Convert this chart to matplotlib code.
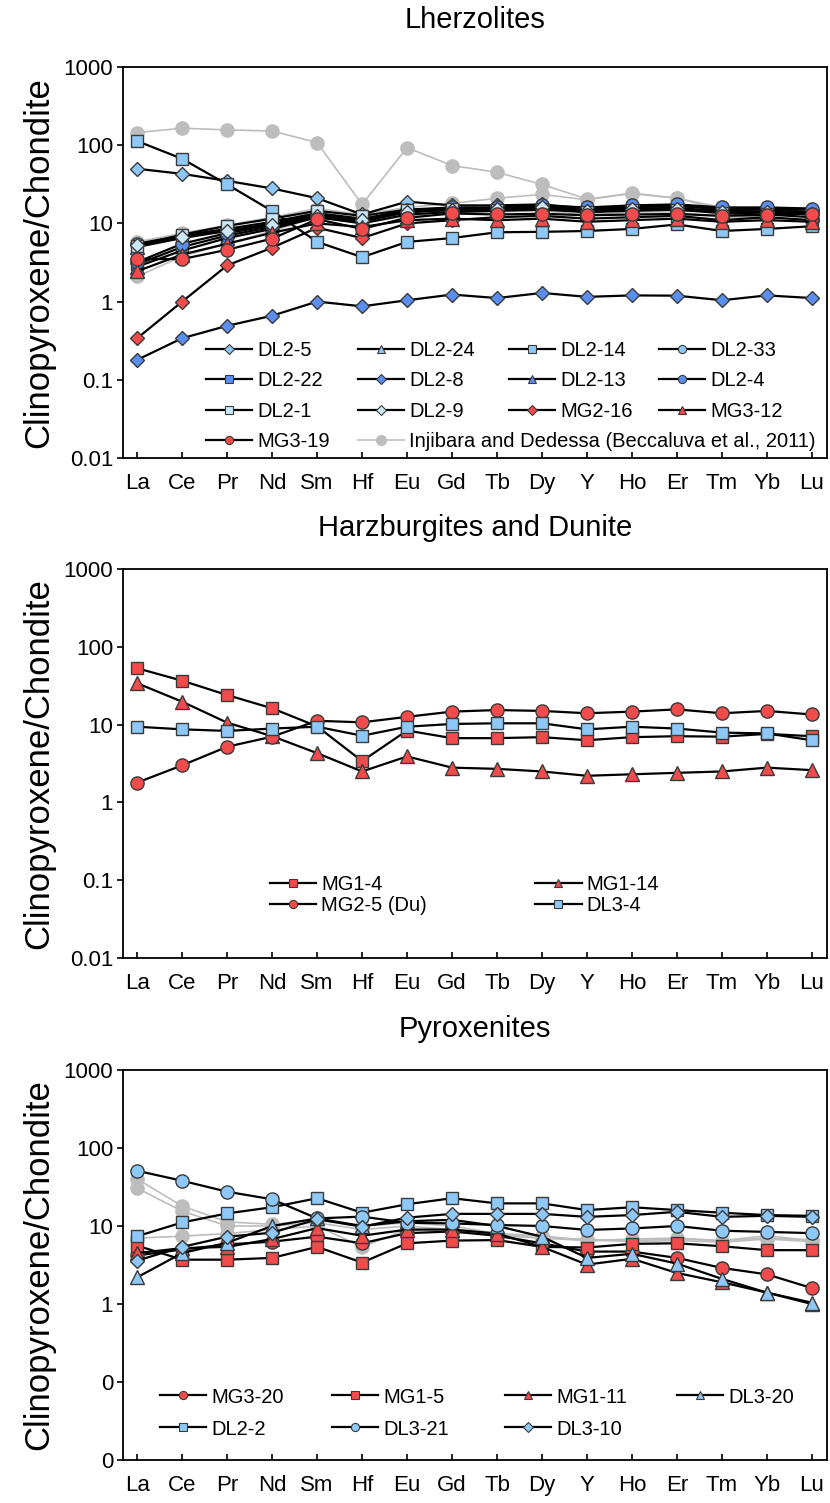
import numpy as np
import matplotlib
matplotlib.use('Agg')
from matplotlib import pyplot as plt
from matplotlib.lines import Line2D
from matplotlib.legend import Legend
from matplotlib.ticker import FixedLocator, FixedFormatter, NullLocator

plt.rcParams['font.family'] = ['Liberation Sans', 'DejaVu Sans']

elements = ['La', 'Ce', 'Pr', 'Nd', 'Sm', 'Hf', 'Eu', 'Gd', 'Tb', 'Dy', 'Y', 'Ho', 'Er', 'Tm', 'Yb', 'Lu']

# Lherzolites
dl2_5 = [50, 43, 35, 28, 21, 13, 19, 17, 17, 17.5, 15.5, 16, 17, 15, 15.5, 15]
dl2_24 = [5, 6.5, 8, 10, 13, 11, 14, 15, 15.5, 16, 14, 15, 16, 14, 14, 13]
dl2_14 = [113, 67, 31.5, 14.4, 5.8, 3.7, 5.8, 6.5, 7.7, 7.8, 8.0, 8.5, 9.7, 8.0, 8.5, 9.2]
dl2_33 = [5.5, 7, 8.5, 10.5, 13.5, 11.5, 14.5, 15, 15, 15.5, 14.5, 15, 15, 14.5, 14, 13.5]
dl2_22 = [3.0, 5, 7, 9, 12, 10, 13, 14, 14.5, 15, 14, 14.5, 15, 14, 14, 13]
dl2_8 = [0.18, 0.34, 0.49, 0.66, 1.0, 0.87, 1.04, 1.23, 1.11, 1.29, 1.15, 1.2, 1.19, 1.04, 1.2, 1.11]
dl2_13 = [2.8, 4.5, 6.5, 8.5, 12, 10.5, 14, 15, 16, 16.5, 15, 16, 17, 15, 15, 14]
dl2_4 = [3.2, 5.5, 7.5, 9.5, 13, 11, 15, 16, 16, 17, 16, 17, 17.5, 16, 16, 15.5]
dl2_1 = [5.2, 7.2, 9.3, 11.5, 14.5, 12.5, 15, 15.5, 15, 15.5, 14, 15, 15, 13.5, 13, 12]
dl2_9 = [5.3, 6.8, 8, 9.5, 12.5, 11, 14, 15, 15.5, 16, 14.5, 15.5, 15.5, 14, 14, 13]
mg2_16 = [0.34, 1.0, 2.9, 4.9, 8.8, 6.5, 10, 11, 12, 12.5, 11.5, 12, 12.5, 11, 12, 11]
mg3_12 = [2.45, 4, 5.5, 7.6, 10, 9, 11, 11.5, 11, 11.5, 10.5, 11, 11.5, 10.5, 11, 10.5]
mg3_19 = [3.5, 3.5, 4.6, 6.4, 11.3, 8.5, 11.8, 13.4, 13, 13.3, 12.7, 13, 13.2, 12.5, 12.8, 13.3]
bec_l1 = [145, 165, 157, 152, 108, 17.5, 93, 55, 45, 31.5, 20.5, 24, 21, 16, 15.5, 14]
bec_l2 = [5.8, 7.5, 9.5, 12, 15.5, 13, 16, 18, 21, 23.5, 20, 24.5, 21, 15, 14.5, 14]
bec_l3 = [2.1, 3.8, 5.5, 8, 12, 10, 12.5, 14, 14, 14.5, 13, 14, 14, 12, 12, 11]

# Harzburgites and Dunite
mg1_4 = [53, 36.7, 24, 16.2, 9.5, 3.4, 8.4, 6.7, 6.7, 6.9, 6.3, 6.9, 7.1, 7.0, 7.6, 7.1]
mg1_14 = [34, 19.7, 10.6, 7.1, 4.3, 2.5, 3.9, 2.8, 2.7, 2.5, 2.2, 2.3, 2.4, 2.5, 2.8, 2.6]
mg2_5 = [1.8, 3.0, 5.2, 7.0, 11.2, 10.7, 12.6, 14.7, 15.4, 15, 14, 14.7, 15.7, 14, 15, 13.5]
dl3_4 = [9.4, 8.7, 8.3, 8.9, 9.4, 7.2, 9.4, 10.2, 10.4, 10.4, 8.7, 9.4, 8.9, 7.9, 7.7, 6.3]

# Pyroxenites
mg3_20 = [4.2, 5.0, 5.8, 6.3, 7.3, 6.0, 8.1, 8.5, 7.5, 6.0, 4.7, 4.7, 3.9, 2.9, 2.4, 1.6]
mg1_5 = [5.6, 3.7, 3.7, 3.9, 5.4, 3.4, 6.0, 6.5, 6.6, 5.4, 5.3, 5.9, 6.0, 5.5, 4.9, 4.9]
mg1_11 = [4.5, 5.2, 5.4, 6.8, 9.4, 7.5, 9.0, 9.0, 8.0, 5.4, 3.2, 3.8, 2.5, 1.9, 1.4, 1.0]
dl3_20 = [2.2, 4.5, 6.1, 10, 12.5, 10, 11.5, 12, 10, 7.3, 3.9, 4.4, 3.3, 2.1, 1.4, 1.04]
dl2_2 = [7.4, 11.1, 14.5, 17.4, 22.7, 14.8, 19.0, 22.7, 19.5, 19.5, 16, 17.4, 16, 14.8, 13.8, 13.5]
dl3_21 = [51, 38, 27.5, 22, 12.5, 13.2, 11, 10.8, 10.3, 10, 8.9, 9.3, 10, 8.7, 8.4, 8.1]
dl3_10 = [3.6, 5.4, 7.3, 8.2, 12.2, 9.8, 12.8, 14.3, 14.3, 14.3, 13.1, 13.8, 15.2, 13.1, 13.5, 13.1]
bec_p1 = [40, 18, 11.3, 10.5, 12, 10, 11, 10, 8, 7.5, 6.5, 6.5, 6.8, 6.5, 7.5, 6.5]
bec_p2 = [30.5, 15.5, 10, 10, 11, 9, 10, 9, 7.5, 7, 6.8, 6.3, 6.5, 6.2, 6.8, 6.3]
bec_p3 = [7.0, 7.4, 8, 9, 10, 5.4, 9, 9, 8, 7, 6.5, 6.8, 7, 6.5, 7, 6.6]

LB = '#8DC8F8'
BL = '#5B8FEF'
PB = '#CBE8FA'
RD = '#F24B4B'
GR = '#BDBDBD'
EDGE = '#3A3A3A'
BEC_LABEL = 'Injibara and Dedessa (Beccaluva et al., 2011)'

MS = {'s': 9, 'o': 9.5, 'D': 7.5, '^': 9.5}

x = np.arange(len(elements))


def draw_series(ax, y, marker, color):
    ax.plot(x, y, color='black', lw=1.6, marker=marker, ms=MS[marker],
            mfc=color, mec=EDGE, mew=1.0, zorder=3)


def draw_bec(ax, y):
    ax.plot(x, y, color=GR, lw=1.2, marker='o', ms=9.5, mfc=GR, mec=GR, zorder=2)


def key(ax, marker, color, label, px, py, gray=False):
    if gray:
        h = Line2D([], [], color=GR, lw=1.2, marker='o', ms=7, mfc=GR, mec=GR)
    else:
        h = Line2D([], [], color='black', lw=1.6, marker=marker, ms=MS[marker] * 0.62,
                   mfc=color, mec=EDGE, mew=0.8)
    leg = Legend(ax, [h], [label], loc='center left', bbox_to_anchor=(px, py),
                 frameon=False, fontsize=14.5, handlelength=2.3, handletextpad=0.25,
                 borderpad=0, borderaxespad=0)
    ax.add_artist(leg)


def style_axis(ax, title, ylabels, title_pad):
    ax.set_yscale('log')
    ax.set_ylim(0.01, 1000)
    ax.set_xlim(-0.32, 15.33)
    ax.yaxis.set_major_locator(FixedLocator([0.01, 0.1, 1, 10, 100, 1000]))
    ax.yaxis.set_major_formatter(FixedFormatter(ylabels))
    ax.yaxis.set_minor_locator(NullLocator())
    ax.set_xticks(x)
    ax.set_xticklabels(elements)
    ax.tick_params(axis='x', direction='in', length=4, width=1.2, pad=11, labelsize=16)
    ax.tick_params(axis='y', direction='out', length=4, width=1.2, pad=3, labelsize=16)
    for s in ax.spines.values():
        s.set_linewidth(1.3)
    ax.set_ylabel('Clinopyroxene/Chondite', fontsize=25, labelpad=6)
    ax.set_title(title, fontsize=21, pad=title_pad)


fig = plt.figure(figsize=(8.3, 15.03), dpi=100)
left, width = 0.148, 0.848
ax1 = fig.add_axes([left, 0.6953, width, 0.2601])
ax2 = fig.add_axes([left, 0.3626, width, 0.2588])
ax3 = fig.add_axes([left, 0.0286, width, 0.2595])

# panel 1
for b in [bec_l1, bec_l2, bec_l3]:
    draw_bec(ax1, b)
top_series = [
    ('DL2-5', dl2_5, 'D', LB), ('DL2-24', dl2_24, '^', LB), ('DL2-14', dl2_14, 's', LB),
    ('DL2-33', dl2_33, 'o', LB), ('DL2-22', dl2_22, 's', BL), ('DL2-8', dl2_8, 'D', BL),
    ('DL2-13', dl2_13, '^', BL), ('DL2-4', dl2_4, 'o', BL), ('DL2-1', dl2_1, 's', PB),
    ('DL2-9', dl2_9, 'D', PB), ('MG2-16', mg2_16, 'D', RD), ('MG3-12', mg3_12, '^', RD),
    ('MG3-19', mg3_19, 'o', RD),
]
for lab, y, m, c in top_series:
    draw_series(ax1, y, m, c)
style_axis(ax1, 'Lherzolites', ['0.01', '0.1', '1', '10', '100', '1000'], 28)
cols = [0.118, 0.334, 0.548, 0.762]
rows = [0.276, 0.197, 0.118, 0.041]
for i, (lab, y, m, c) in enumerate(top_series):
    key(ax1, m, c, lab, cols[i % 4], rows[i // 4])
key(ax1, 'o', GR, BEC_LABEL, cols[1], rows[3], gray=True)

# panel 2
mid_series = [('MG1-4', mg1_4, 's', RD), ('MG1-14', mg1_14, '^', RD),
              ('MG2-5 (Du)', mg2_5, 'o', RD), ('DL3-4', dl3_4, 's', LB)]
for lab, y, m, c in mid_series:
    draw_series(ax2, y, m, c)
style_axis(ax2, 'Harzburgites and Dunite', ['0.01', '0.1', '1', '10', '100', '1000'], 24)
cols = [0.209, 0.586]
rows = [0.190, 0.134]
for i, (lab, y, m, c) in enumerate(mid_series):
    key(ax2, m, c, lab, cols[i % 2], rows[i // 2])

# panel 3
for b in [bec_p1, bec_p2, bec_p3]:
    draw_bec(ax3, b)
bot_series = [('MG3-20', mg3_20, 'o', RD), ('MG1-5', mg1_5, 's', RD),
              ('MG1-11', mg1_11, '^', RD), ('DL3-20', dl3_20, '^', LB),
              ('DL2-2', dl2_2, 's', LB), ('DL3-21', dl3_21, 'o', LB),
              ('DL3-10', dl3_10, 'D', LB)]
for lab, y, m, c in bot_series:
    draw_series(ax3, y, m, c)
style_axis(ax3, 'Pyroxenites', ['0', '0', '1', '10', '100', '1000'], 24)
cols = [0.053, 0.297, 0.543, 0.787]
rows = [0.1615, 0.0795]
for i, (lab, y, m, c) in enumerate(bot_series):
    key(ax3, m, c, lab, cols[i % 4], rows[i // 4])

fig.savefig('out.png', dpi=100)
